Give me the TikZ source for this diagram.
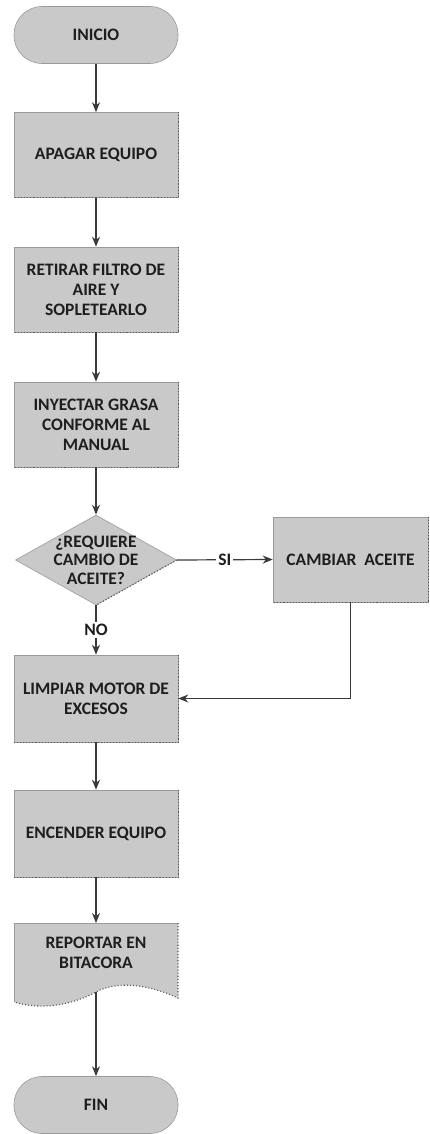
\documentclass[tikz,border=0pt]{standalone}
\usepackage{fontspec}
\setmainfont{Carlito}
\usetikzlibrary{arrows.meta,shapes.geometric}
\definecolor{boxfill}{HTML}{C9C9C9}
\definecolor{boxedge}{HTML}{9A9A9A}
\definecolor{lineclr}{HTML}{3A3A3A}
\definecolor{txt}{HTML}{1E1E1E}
\newcommand{\flowfont}{\fontsize{17.5}{20}\selectfont\bfseries}
\tikzset{
  base/.style={fill=boxfill, draw=boxedge, line width=0.6pt, text=txt,
    font=\flowfont, align=center, inner sep=2pt},
  procbox/.style={base, rectangle, minimum width=164pt, minimum height=85pt},
  termbox/.style={base, rectangle, rounded corners=28pt, minimum width=164pt, minimum height=57pt},
  shadowedge/.style={draw=black!65, line width=1.1pt, dotted},
  flow/.style={draw=lineclr, line width=1.2pt, -{Stealth[length=10pt,width=8pt]}},
  lbl/.style={fill=white, text=txt, inner sep=2pt, font=\flowfont},
  plaintext/.style={text=txt, align=center, font=\flowfont}
}
\begin{document}
\begin{tikzpicture}[x=1pt,y=-1pt]
\useasboundingbox (0,0) rectangle (429,1134);
% nodes
\node[termbox] (ini) at (96,35) {INICIO};
\node[procbox] (apa) at (96,155) {APAGAR EQUIPO};
\node[procbox] (ret) at (96,289.5) {RETIRAR FILTRO DE\\AIRE Y\\SOPLETEARLO};
\node[procbox] (iny) at (96,424.5) {INYECTAR GRASA\\CONFORME AL\\MANUAL};
\node[diamond, fill=boxfill, draw=boxedge, line width=0.6pt, minimum width=161pt, minimum height=90pt, inner sep=0pt] (dec) at (96,560) {};
\node[plaintext, font=\fontsize{17.5}{18.5}\selectfont\bfseries] (dect) at (dec.center) {¿REQUIERE\\CAMBIO DE\\ACEITE?};
\node[procbox, minimum width=155pt] (cam) at (350.5,559.5) {CAMBIAR\ \ ACEITE};
\node[procbox, minimum height=87pt] (lim) at (96,698.5) {LIMPIAR MOTOR DE\\EXCESOS};
\node[procbox, minimum height=87pt] (enc) at (96,833.5) {ENCENDER EQUIPO};
% document shape: outline plus text node
\fill[boxfill] (14,923) -- (178,923) -- (178,998)
  .. controls (150,985) and (118,980) .. (96,992)
  .. controls (70,1006) and (40,1010) .. (14,1002) -- cycle;
\draw[boxedge, line width=0.6pt] (14,1002) -- (14,923) -- (178,923);
\draw[shadowedge] (178,923) -- (178,998)
  .. controls (150,985) and (118,980) .. (96,992)
  .. controls (70,1006) and (40,1010) .. (14,1002);
\node[plaintext, minimum width=164pt, minimum height=60pt] (rep) at (96,953) {REPORTAR EN\\BITACORA};
\coordinate (repbot) at (96,992);
\node[termbox] (fin) at (96,1105) {FIN};
% shadow edges
\foreach \n in {apa,ret,iny,cam,lim,enc}{
  \draw[shadowedge] (\n.north east) -- (\n.south east) -- (\n.south west);
}
\draw[shadowedge] (dec.east) -- (dec.south);
% connectors
\draw[flow] (ini) -- (apa);
\draw[flow] (apa) -- (ret);
\draw[flow] (ret) -- (iny);
\draw[flow] (iny) -- (dec);
\draw[flow] (dec.east) -- node[lbl] {SI} (cam.west);
\draw[flow] (dec.south) -- node[lbl] {NO} (lim.north);
\draw[flow] (cam.south) |- (lim.east);
\draw[flow] (lim) -- (enc);
\draw[flow] (enc.south) -- (96,923);
\draw[flow] (repbot) -- (fin);
\end{tikzpicture}
\end{document}
